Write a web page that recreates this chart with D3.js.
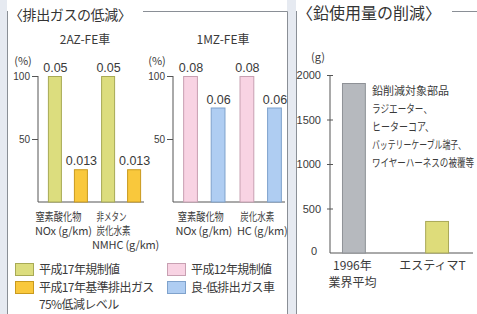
<!DOCTYPE html>
<html lang="ja">
<head>
<meta charset="UTF-8">
<title>排出ガスの低減 / 鉛使用量の削減</title>
<style>
  body { margin: 0; background: #e6eaf1; }
  svg { display: block; font-family: "Noto Sans CJK JP", "Noto Sans", sans-serif; }
</style>
</head>
<body>
<div id="chart"></div>
<script src="https://d3js.org/d3.v7.min.js"></script>
<script>
// ---- data ----
const engines2AZ = ["NOx", "NMHC"];
const reg17 = [100, 100];          // % of 平成17年規制値
const reg17Labels = ["0.05", "0.05"];
const low75 = [26, 26];            // 75%低減レベル
const low75Labels = ["0.013", "0.013"];

const engines1MZ = ["NOx", "HC"];
const reg12 = [100, 100];
const reg12Labels = ["0.08", "0.08"];
const lowEm = [75, 75];
const lowEmLabels = ["0.06", "0.06"];

const pctTicks = [100, 50];

const leadCats = ["1996", "Estima"];
const leadVals = [1910, 360];
const leadTicks = [0, 500, 1000, 1500, 2000];
const leadNote = ["鉛削減対象部品", "ラジエーター、", "ヒーターコア、", "バッテリーケーブル端子、", "ワイヤーハーネスの被覆等"];

const W = 477, H = 314;
const svg = d3.select("#chart").append("svg").attr("width", W).attr("height", H);

// panels
svg.append("rect").attr("x", 7).attr("y", 0).attr("width", 280).attr("height", H).attr("fill", "#fff");
svg.append("rect").attr("x", 296).attr("y", 0).attr("width", 181).attr("height", H).attr("fill", "#fff");
const frame = "#8a8f96";
svg.append("path").attr("d", "M7.5,11 V314").attr("stroke", frame).attr("fill", "none");
svg.append("path").attr("d", "M143,11.5 H287.5 V314").attr("stroke", frame).attr("fill", "none");
svg.append("path").attr("d", "M296.5,11 V314").attr("stroke", frame).attr("fill", "none");
svg.append("path").attr("d", "M452,11.5 H477").attr("stroke", frame).attr("fill", "none");

svg.append("text").attr("x", 9).attr("y", 20).attr("font-size", 14).attr("letter-spacing", -0.4)
  .attr("fill", "#333").text("〈排出ガスの低減〉");
svg.append("text").attr("x", 297).attr("y", 19).attr("font-size", 16)
  .attr("fill", "#333").text("〈鉛使用量の削減〉");

const txt = "#3a3a3a";
const y = d3.scaleLinear().domain([0, 100]).range([202, 76]);

function pctChart(opt) {
  const g = svg.append("g");
  g.append("text").attr("x", opt.titleX).attr("y", 44).attr("text-anchor", "middle")
    .attr("font-size", 12).attr("fill", txt).text(opt.title);
  g.append("text").attr("x", opt.axisX - opt.unitDx).attr("y", 65).attr("text-anchor", "middle")
    .attr("font-size", 11).attr("fill", txt).text("(%)");
  const ax = g.append("g").attr("transform", `translate(${opt.axisX},0)`)
    .call(d3.axisLeft(y).tickValues(pctTicks).tickSize(6).tickPadding(2));
  ax.select(".domain").attr("stroke", "#555").attr("d", `M0,${y(100)}V${y(0)}`);
  ax.selectAll(".tick line").attr("stroke", "#555").attr("x2", -6).attr("x1", 0);
  ax.selectAll(".tick text").attr("font-size", 10).attr("fill", txt).attr("font-family", "Liberation Sans, sans-serif");
  g.append("line").attr("x1", opt.axisX).attr("x2", opt.axisEnd).attr("y1", y(0)).attr("y2", y(0)).attr("stroke", "#555");

  const x = d3.scaleBand().domain(opt.cats).range([opt.axisX + 6, opt.axisEnd]).paddingInner(0.12);
  const inner = d3.scaleBand().domain([0, 1]).range([0, x.bandwidth()]).paddingInner(0.5).paddingOuter(0.15);
  const series = [
    { vals: opt.a, labels: opt.aLabels, fill: opt.aFill, stroke: opt.aStroke },
    { vals: opt.b, labels: opt.bLabels, fill: opt.bFill, stroke: opt.bStroke }
  ];
  series.forEach((s, si) => {
    opt.cats.forEach((c, i) => {
      const bx = x(c) + inner(si);
      g.append("rect").attr("x", bx + 0.5).attr("y", y(s.vals[i]) + 0.5)
        .attr("width", inner.bandwidth()).attr("height", y(0) - y(s.vals[i]) - 0.5)
        .attr("fill", s.fill).attr("stroke", s.stroke);
      g.append("text").attr("x", bx + inner.bandwidth() / 2 + 1).attr("y", y(s.vals[i]) - 4)
        .attr("text-anchor", "middle").attr("font-size", 12.5).attr("fill", txt)
        .attr("font-family", "Liberation Sans, sans-serif").text(s.labels[i]);
    });
  });
  opt.catLabels.forEach((lines, i) => {
    lines.forEach((l, j) => {
      const el = g.append("text").attr("x", x(opt.cats[i]) + x.bandwidth() / 2 + (l.dx || 0)).attr("y", 221 + j * 14)
        .attr("text-anchor", "middle").attr("font-size", 11).attr("letter-spacing", -0.2)
        .attr("fill", txt).text(l.t);
      if (l.len) el.attr("letter-spacing", 0).attr("textLength", l.len).attr("lengthAdjust", "spacingAndGlyphs");
    });
  });
}

pctChart({
  title: "2AZ-FE車", titleX: 85, axisX: 38, axisEnd: 144, unitDx: 15, cats: engines2AZ,
  a: reg17, aLabels: reg17Labels, aFill: "#dcdd7e", aStroke: "#a8aa55",
  b: low75, bLabels: low75Labels, bFill: "#f9c83c", bStroke: "#c99a1e",
  catLabels: [[{ t: "窒素酸化物", dx: -9, len: 46 }, { t: "NOx (g/km)", dx: -4 }],
              [{ t: "非メタン", dx: -9, len: 30 }, { t: "炭化水素", dx: -7, len: 34 }, { t: "NMHC (g/km)", dx: 5 }]]
});
pctChart({
  title: "1MZ-FE車", titleX: 223, axisX: 173, axisEnd: 285, unitDx: 16, cats: engines1MZ,
  a: reg12, aLabels: reg12Labels, aFill: "#f8d3e3", aStroke: "#c8a0b2",
  b: lowEm, bLabels: lowEmLabels, bFill: "#afcdf2", bStroke: "#7fa2cc",
  catLabels: [[{ t: "窒素酸化物", dx: -3, len: 46 }, { t: "NOx (g/km)", dx: 0 }],
              [{ t: "炭化水素", dx: -3, len: 34 }, { t: "HC (g/km)", dx: 2 }]]
});

// legend
const legend = [
  { x: 15, y: 263, fill: "#dcdd7e", stroke: "#a8aa55", lines: ["平成17年規制値"] },
  { x: 15, y: 281, fill: "#f9c83c", stroke: "#c99a1e", lines: ["平成17年基準排出ガス", "75%低減レベル"] },
  { x: 167, y: 263, fill: "#f8d3e3", stroke: "#c8a0b2", lines: ["平成12年規制値"] },
  { x: 167, y: 281, fill: "#afcdf2", stroke: "#7fa2cc", lines: ["良-低排出ガス車"] }
];
legend.forEach(l => {
  svg.append("rect").attr("x", l.x + 0.5).attr("y", l.y + 0.5).attr("width", 18).attr("height", 12)
    .attr("fill", l.fill).attr("stroke", l.stroke);
  l.lines.forEach((t, j) => {
    svg.append("text").attr("x", l.x + 24).attr("y", l.y + 11 + j * 17).attr("font-size", 12)
      .attr("letter-spacing", -0.6).attr("fill", txt).text(t);
  });
});

// lead chart
const yl = d3.scaleLinear().domain([0, 2000]).range([253, 75]);
const xl = d3.scaleBand().domain(leadCats).range([330, 460]).paddingInner(0.725).paddingOuter(0.144);
svg.append("text").attr("x", 318).attr("y", 61).attr("text-anchor", "middle").attr("font-size", 11)
  .attr("fill", txt).text("(g)");
const axl = svg.append("g").attr("transform", "translate(330,0)")
  .call(d3.axisLeft(yl).tickValues(leadTicks).tickFormat(d3.format("d")).tickSize(6).tickPadding(3));
axl.select(".domain").attr("stroke", "#555").attr("d", `M0,${yl(2000)}V${yl(0)}`);
axl.selectAll(".tick line").attr("stroke", "#555").attr("x2", -3).attr("x1", 3);
axl.selectAll(".tick text").attr("font-size", 11).attr("fill", txt).attr("font-family", "Liberation Sans, sans-serif");
axl.selectAll(".tick").filter(d => d === 0).select("line").remove();
axl.selectAll(".tick").filter(d => d === 0).select("text").attr("dx", -4).attr("dy", "0.1em");
svg.append("line").attr("x1", 330).attr("x2", 473).attr("y1", yl(0)).attr("y2", yl(0)).attr("stroke", "#555");
const leadFill = ["#b6b9be", "#dedc7a"];
const leadStroke = ["#8e9196", "#a9a857"];
leadCats.forEach((c, i) => {
  svg.append("rect").attr("x", xl(c) + 0.5).attr("y", yl(leadVals[i]) + 0.5)
    .attr("width", xl.bandwidth()).attr("height", yl(0) - yl(leadVals[i]) - 0.5)
    .attr("fill", leadFill[i]).attr("stroke", leadStroke[i]);
});
const leadLabels = [["1996年", "業界平均"], ["エスティマT"]];
const leadDx = [-1, -4];
leadLabels.forEach((lines, i) => {
  lines.forEach((t, j) => {
    svg.append("text").attr("x", xl(leadCats[i]) + xl.bandwidth() / 2 + leadDx[i]).attr("y", 270 + j * 17)
      .attr("text-anchor", "middle").attr("font-size", 12).attr("fill", txt).text(t);
  });
});
leadNote.forEach((t, j) => {
  const el = svg.append("text").attr("x", 372).attr("y", 95 + j * 18).attr("font-size", 11)
    .attr("fill", txt).text(t);
  if (j === 1) el.attr("textLength", 60).attr("lengthAdjust", "spacingAndGlyphs");
  if (j === 2) el.attr("textLength", 62).attr("lengthAdjust", "spacingAndGlyphs");
  if (j === 3) el.attr("textLength", 94).attr("lengthAdjust", "spacingAndGlyphs");
  if (j === 4) el.attr("textLength", 102).attr("lengthAdjust", "spacingAndGlyphs");
});
</script>
</body>
</html>
